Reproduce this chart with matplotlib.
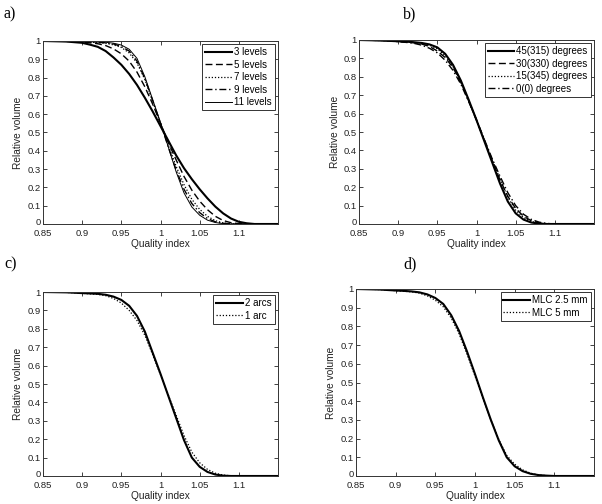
import matplotlib
matplotlib.use("Agg")
import matplotlib.pyplot as plt
from matplotlib.transforms import ScaledTranslation

plt.rcParams['font.family'] = ['Liberation Sans', 'DejaVu Sans']

# ---------------- data ----------------
qx = [0.85, 0.88, 0.90, 0.91, 0.92, 0.93, 0.94, 0.95, 0.96, 0.97, 0.98, 0.99,
      1.00, 1.01, 1.02, 1.03, 1.04, 1.05, 1.06, 1.07, 1.08, 1.09, 1.10, 1.11,
      1.12, 1.15]

# panel a
a_labels = ['3 levels', '5 levels', '7 levels', '9 levels', '11 levels']
a_3 = [1.0, 0.997, 0.99, 0.98, 0.968, 0.945, 0.91, 0.87, 0.82, 0.76, 0.69, 0.615,
       0.535, 0.455, 0.375, 0.305, 0.245, 0.19, 0.14, 0.095, 0.058, 0.03, 0.012, 0.004,
       0.0, 0.0]
a_5 = [1.0, 0.998, 0.995, 0.99, 0.985, 0.975, 0.957, 0.93, 0.89, 0.83, 0.75, 0.655,
       0.55, 0.445, 0.35, 0.26, 0.185, 0.125, 0.078, 0.042, 0.019, 0.007, 0.002, 0.0,
       0.0, 0.0]
a_7 = [1.0, 0.998, 0.996, 0.994, 0.991, 0.987, 0.979, 0.965, 0.935, 0.88, 0.79, 0.67,
       0.55, 0.43, 0.315, 0.215, 0.135, 0.08, 0.042, 0.018, 0.006, 0.001, 0.0, 0.0,
       0.0, 0.0]
a_9 = [1.0, 0.998, 0.996, 0.995, 0.993, 0.99, 0.984, 0.97, 0.945, 0.89, 0.795, 0.675,
       0.55, 0.42, 0.295, 0.19, 0.112, 0.062, 0.03, 0.012, 0.004, 0.001, 0.0, 0.0,
       0.0, 0.0]
a_11 = [1.0, 0.998, 0.997, 0.996, 0.995, 0.993, 0.988, 0.978, 0.955, 0.905, 0.805, 0.68,
        0.555, 0.42, 0.285, 0.17, 0.093, 0.048, 0.021, 0.008, 0.002, 0.0, 0.0, 0.0,
        0.0, 0.0]

# panel b
b_labels = ['45(315) degrees', '30(330) degrees', '15(345) degrees', '0(0) degrees']
b_45 = [1.0, 0.997, 0.993, 0.991, 0.988, 0.984, 0.976, 0.96, 0.925, 0.865, 0.78, 0.675,
        0.565, 0.45, 0.335, 0.22, 0.122, 0.058, 0.024, 0.008, 0.002, 0.0, 0.0, 0.0,
        0.0, 0.0]
b_30 = [1.0, 0.997, 0.992, 0.989, 0.985, 0.978, 0.965, 0.94, 0.905, 0.85, 0.77, 0.67,
        0.565, 0.455, 0.345, 0.24, 0.15, 0.085, 0.042, 0.018, 0.006, 0.001, 0.0, 0.0,
        0.0, 0.0]
b_15 = [1.0, 0.997, 0.993, 0.99, 0.987, 0.982, 0.972, 0.952, 0.915, 0.855, 0.775, 0.67,
        0.565, 0.455, 0.35, 0.245, 0.145, 0.075, 0.035, 0.014, 0.004, 0.001, 0.0, 0.0,
        0.0, 0.0]
b_0 = [1.0, 0.997, 0.991, 0.987, 0.982, 0.972, 0.955, 0.93, 0.89, 0.835, 0.76, 0.665,
       0.565, 0.46, 0.355, 0.26, 0.17, 0.10, 0.053, 0.025, 0.01, 0.003, 0.0, 0.0,
       0.0, 0.0]

# panel c
c_labels = ['2 arcs', '1 arc']
c_2 = [1.0, 0.998, 0.994, 0.992, 0.99, 0.985, 0.975, 0.957, 0.925, 0.87, 0.785, 0.67,
       0.555, 0.435, 0.315, 0.195, 0.10, 0.05, 0.022, 0.008, 0.002, 0.0, 0.0, 0.0,
       0.0, 0.0]
c_1 = [1.0, 0.998, 0.993, 0.99, 0.987, 0.98, 0.965, 0.94, 0.90, 0.845, 0.765, 0.66,
       0.55, 0.44, 0.33, 0.22, 0.13, 0.072, 0.036, 0.015, 0.005, 0.001, 0.0, 0.0,
       0.0, 0.0]

# panel d
d_labels = ['MLC 2.5 mm', 'MLC 5 mm']
d_25 = [1.0, 0.997, 0.992, 0.99, 0.987, 0.982, 0.971, 0.952, 0.92, 0.86, 0.775, 0.665,
        0.545, 0.42, 0.30, 0.19, 0.10, 0.052, 0.026, 0.012, 0.005, 0.002, 0.0, 0.0,
        0.0, 0.0]
d_5 = [1.0, 0.997, 0.991, 0.988, 0.985, 0.978, 0.963, 0.94, 0.905, 0.845, 0.76, 0.65,
       0.535, 0.415, 0.30, 0.195, 0.11, 0.063, 0.033, 0.015, 0.006, 0.002, 0.0, 0.0,
       0.0, 0.0]

panel_letters = ['a)', 'b)', 'c)', 'd)']
x_ticks = [0.85, 0.9, 0.95, 1, 1.05, 1.1]
x_ticklabels = ['0.85', '0.9', '0.95', '1', '1.05', '1.1']
y_ticks = [0, 0.1, 0.2, 0.3, 0.4, 0.5, 0.6, 0.7, 0.8, 0.9, 1]
y_ticklabels = ['0', '0.1', '0.2', '0.3', '0.4', '0.5', '0.6', '0.7', '0.8', '0.9', '1']

# ---------------- figure ----------------
W, H = 602, 504
fig = plt.figure(figsize=(W / 100, H / 100), dpi=100)

def box(l, r, t, b):
    return [l / W, 1 - b / H, (r - l) / W, (b - t) / H]

axa = fig.add_axes(box(43, 278, 41, 224))
axb = fig.add_axes(box(359, 594, 40, 224))
axc = fig.add_axes(box(43, 278, 292, 476))
axd = fig.add_axes(box(356, 594, 289, 476))

styles_a = [dict(ls='-', lw=1.5), dict(ls=(0, (5, 2.5)), lw=1.0),
            dict(ls=(0, (1, 1.5)), lw=0.9), dict(ls=(0, (5, 2, 1, 2)), lw=1.0),
            dict(ls='-', lw=0.7)]
for ys, lab, st in zip([a_3, a_5, a_7, a_9, a_11], a_labels, styles_a):
    axa.plot(qx, ys, color='black', label=lab, **st)

styles_b = [dict(ls='-', lw=1.5), dict(ls=(0, (5, 2.5)), lw=1.0),
            dict(ls=(0, (1, 1.5)), lw=0.9), dict(ls=(0, (5, 2, 1, 2)), lw=1.0)]
for ys, lab, st in zip([b_45, b_30, b_15, b_0], b_labels, styles_b):
    axb.plot(qx, ys, color='black', label=lab, **st)

styles_cd = [dict(ls='-', lw=1.5), dict(ls=(0, (1, 1.5)), lw=0.9)]
for ys, lab, st in zip([c_2, c_1], c_labels, styles_cd):
    axc.plot(qx, ys, color='black', label=lab, **st)
for ys, lab, st in zip([d_25, d_5], d_labels, styles_cd):
    axd.plot(qx, ys, color='black', label=lab, **st)

for ax in (axa, axb, axc, axd):
    ax.set_xlim(0.85, 1.15)
    ax.set_ylim(0, 1)
    ax.set_xticks(x_ticks)
    ax.set_xticklabels(x_ticklabels)
    ax.set_yticks(y_ticks)
    ax.set_yticklabels(y_ticklabels)
    ax.tick_params(direction='in', top=True, right=True, length=3, width=0.6,
                   labelsize=6.8, colors='#222222')
    ax.tick_params(axis='x', pad=3.5)
    ax.tick_params(axis='y', pad=1.5)
    # nudge the "0" label up a little so it clears the first x label
    lbl0 = ax.get_yticklabels()[0]
    lbl0.set_transform(lbl0.get_transform() +
                       ScaledTranslation(0, 2.5 / 100, fig.dpi_scale_trans))
    for sp in ax.spines.values():
        sp.set_linewidth(0.7)
        sp.set_color('#333333')
    ax.set_xlabel('Quality index', fontsize=7.3, labelpad=0.5, color='#222222')
    ax.set_ylabel('Relative volume', fontsize=7.3, labelpad=3.0, color='#222222')
    leg = ax.legend(loc='upper right', fontsize=7, frameon=True, fancybox=False,
                    handlelength=2.7, handletextpad=0.25, borderpad=0.3,
                    labelspacing=0.25, borderaxespad=0.35, framealpha=1)
    leg.get_frame().set_edgecolor('#333333')
    leg.get_frame().set_linewidth(0.7)

letter_pos = [(4, 14), (403, 14), (4, 264), (403, 264)]
for (px, py), t in zip(letter_pos, panel_letters):
    fig.text(px / W, 1 - py / H, t, fontsize=11.5, family='Liberation Serif',
             ha='left', va='center')

fig.savefig('out.png', dpi=100)
